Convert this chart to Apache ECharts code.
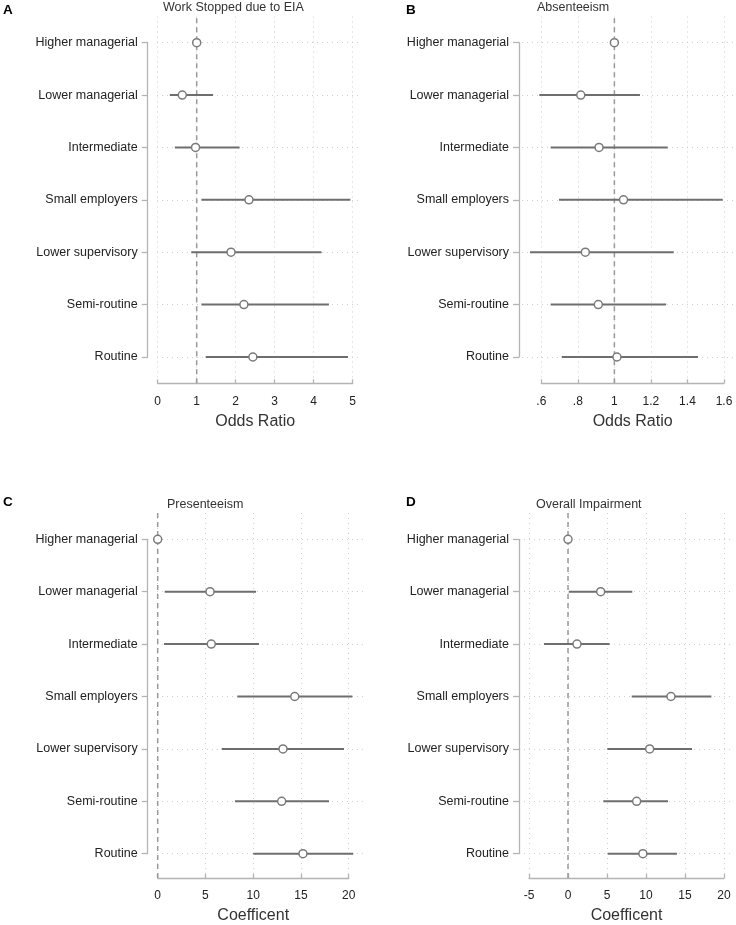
<!DOCTYPE html>
<html>
<head>
<meta charset="utf-8">
<script src="https://cdn.jsdelivr.net/npm/echarts@6/dist/echarts.min.js"></script>
<style>
html,body{margin:0;padding:0;background:#fff;}
#chart{width:736px;height:925px;}
</style>
</head>
<body>
<div id="chart"></div>
<script>
// ---- data ----
const categories = ['Higher managerial','Lower managerial','Intermediate','Small employers','Lower supervisory','Semi-routine','Routine'];

const estA  = [1.00, 0.63, 0.97, 2.34, 1.88, 2.21, 2.44];
const lowA  = [null, 0.31, 0.44, 1.12, 0.86, 1.12, 1.23];
const highA = [null, 1.42, 2.10, 4.94, 4.20, 4.39, 4.88];

const estB  = [1.00, 0.816, 0.916, 1.05, 0.841, 0.912, 1.014];
const lowB  = [null, 0.589, 0.651, 0.697, 0.538, 0.651, 0.712];
const highB = [null, 1.14, 1.292, 1.593, 1.325, 1.283, 1.458];

const estC  = [0, 5.48, 5.61, 14.35, 13.12, 12.98, 15.21];
const lowC  = [null, 0.73, 0.66, 8.34, 6.70, 8.09, 10.01];
const highC = [null, 10.30, 10.60, 20.38, 19.51, 17.94, 20.48];

const estD  = [0, 4.19, 1.15, 13.20, 10.47, 8.80, 9.60];
const lowD  = [null, 0.10, -3.08, 8.17, 5.04, 4.53, 5.09];
const highD = [null, 8.24, 5.34, 18.38, 15.90, 12.82, 13.97];

const ticksA = [0, 1, 2, 3, 4, 5];
const tickLabelsA = ['0','1','2','3','4','5'];
const ticksB = [0.6, 0.8, 1.0, 1.2, 1.4, 1.6];
const tickLabelsB = ['.6','.8','1','1.2','1.4','1.6'];
const ticksC = [0, 5, 10, 15, 20];
const tickLabelsC = ['0','5','10','15','20'];
const ticksD = [-5, 0, 5, 10, 15, 20];
const tickLabelsD = ['-5','0','5','10','15','20'];

const refA = 1, refB = 1, refC = 0, refD = 0;

// ---- layout (pixels) ----
const FONT = 'Liberation Sans, Arial, Helvetica, sans-serif';
const topRow = {top:16.5, bottom:383.3, catTop:42.7, catBottom:357, titleY:1.5, letterY:3.5};
const botRow = {top:513, bottom:880, catTop:539.3, catBottom:853.7, titleY:498.5, letterY:495.5};

const panels = [
  {letter:'A', title:'Work Stopped due to EIA', xTitle:'Odds Ratio', ticks:ticksA, labels:tickLabelsA, ref:refA,
   est:estA, low:lowA, high:highA, row:topRow, pxL:157.7, pxR:352.7, extL:157, extR:362, yAxisX:147.7, titleX:163, letterX:3},
  {letter:'B', title:'Absenteeism', xTitle:'Odds Ratio', ticks:ticksB, labels:tickLabelsB, ref:refB,
   est:estB, low:lowB, high:highB, row:topRow, pxL:541.3, pxR:724, extL:522, extR:733, yAxisX:519, titleX:537, letterX:406},
  {letter:'C', title:'Presenteeism', xTitle:'Coefficent', ticks:ticksC, labels:tickLabelsC, ref:refC,
   est:estC, low:lowC, high:highC, row:botRow, pxL:157.7, pxR:348.7, extL:157, extR:363, yAxisX:147.7, titleX:167, letterX:3},
  {letter:'D', title:'Overall Impairment', xTitle:'Coefficent', ticks:ticksD, labels:tickLabelsD, ref:refD,
   est:estD, low:lowD, high:highD, row:botRow, pxL:529, pxR:724, extL:524, extR:733, yAxisX:519, titleX:536, letterX:406}
];

const AXIS_COLOR = '#b4b4b4';
const GRID_LINE = {color:'#cfcfcf', type:[1,4], width:1};

const grid = [], xAxis = [], yAxis = [], series = [], title = [];

panels.forEach((p, i) => {
  const a = p.ticks[0], b = p.ticks[p.ticks.length - 1];
  const scale = (b - a) / (p.pxR - p.pxL);
  const ea = a + (p.extL - p.pxL) * scale;
  const eb = a + (p.extR - p.pxL) * scale;
  const r = p.row;
  const gP = 3 * i, gY = 3 * i + 1, gL = 3 * i + 2;

  // plot region (x axis, vertical grid, reference line)
  grid.push({left:p.pxL, top:r.top, width:p.pxR - p.pxL, height:r.bottom - r.top});
  // data region (horizontal grid, estimates)
  grid.push({left:p.extL, top:r.catTop, width:p.extR - p.extL, height:r.catBottom - r.catTop});
  // y axis (line, ticks, labels)
  grid.push({left:p.yAxisX, top:r.catTop, width:4, height:r.catBottom - r.catTop});

  xAxis.push({
    gridIndex:gP, type:'value', min:a, max:b, interval:p.ticks[1] - p.ticks[0],
    axisLine:{show:true, lineStyle:{color:AXIS_COLOR, width:1.3}},
    axisTick:{show:true, inside:true, length:4, lineStyle:{color:AXIS_COLOR, width:1.3}},
    axisLabel:{fontFamily:FONT, fontSize:12, color:'#222', margin:12,
      formatter: v => { const k = p.ticks.findIndex(t => Math.abs(t - v) < 1e-6); return k >= 0 ? p.labels[k] : ''; }},
    splitLine:{show:true, lineStyle:GRID_LINE},
    name:p.xTitle, nameLocation:'middle', nameGap:30,
    nameTextStyle:{fontFamily:FONT, fontSize:16, color:'#333'}
  });
  xAxis.push({gridIndex:gY, type:'value', min:ea, max:eb, show:false});
  xAxis.push({gridIndex:gL, type:'value', min:0, max:1, show:false});

  yAxis.push({gridIndex:gP, type:'value', min:0, max:1, show:false});
  yAxis.push({
    gridIndex:gY, type:'category', data:categories, inverse:true, boundaryGap:false,
    axisLine:{show:false}, axisTick:{show:false}, axisLabel:{show:false},
    splitLine:{show:true, lineStyle:GRID_LINE}
  });
  yAxis.push({
    gridIndex:gL, type:'category', data:categories, inverse:true, boundaryGap:false,
    axisLine:{show:true, lineStyle:{color:AXIS_COLOR, width:1.3}},
    axisTick:{show:true, length:6, lineStyle:{color:AXIS_COLOR, width:1.3}},
    axisLabel:{fontFamily:FONT, fontSize:12.5, color:'#222', margin:10},
    splitLine:{show:false}
  });

  series.push({
    type:'line', xAxisIndex:gP, yAxisIndex:gP, silent:true, symbol:'none', z:1,
    data:[[p.ref, 0], [p.ref, 1]],
    lineStyle:{color:'#999', width:1.5, type:[5,4]}
  });

  series.push({
    type:'custom', xAxisIndex:gY, yAxisIndex:gY, clip:false, z:5, silent:true,
    data: categories.map((c, k) => [p.low[k], p.high[k], p.est[k], k]),
    encode:{x:[0,1,2], y:3},
    renderItem: (params, api) => {
      const lo = api.value(0), hi = api.value(1), est = api.value(2), cat = api.value(3);
      const children = [];
      if (lo != null && hi != null && !isNaN(lo) && !isNaN(hi)) {
        const p1 = api.coord([lo, cat]), p2 = api.coord([hi, cat]);
        children.push({type:'line', shape:{x1:p1[0], y1:p1[1], x2:p2[0], y2:p2[1]},
          style:{stroke:'#6e6e6e', lineWidth:2}});
      }
      const c = api.coord([est, cat]);
      children.push({type:'circle', shape:{cx:c[0], cy:c[1], r:4},
        style:{fill:'#fff', stroke:'#7a7a7a', lineWidth:1.5}});
      return {type:'group', children};
    }
  });

  title.push({text:p.letter, left:p.letterX, top:r.letterY, padding:0,
    textStyle:{fontFamily:FONT, fontSize:13.5, fontWeight:'bold', color:'#000'}});
  title.push({text:p.title, left:p.titleX, top:r.titleY, padding:0,
    textStyle:{fontFamily:FONT, fontSize:12.5, fontWeight:'normal', color:'#333'}});
});

const chart = echarts.init(document.getElementById('chart'), null, {renderer:'canvas'});
chart.setOption({
  animation:false,
  backgroundColor:'#fff',
  title, grid, xAxis, yAxis, series
});
</script>
</body>
</html>
